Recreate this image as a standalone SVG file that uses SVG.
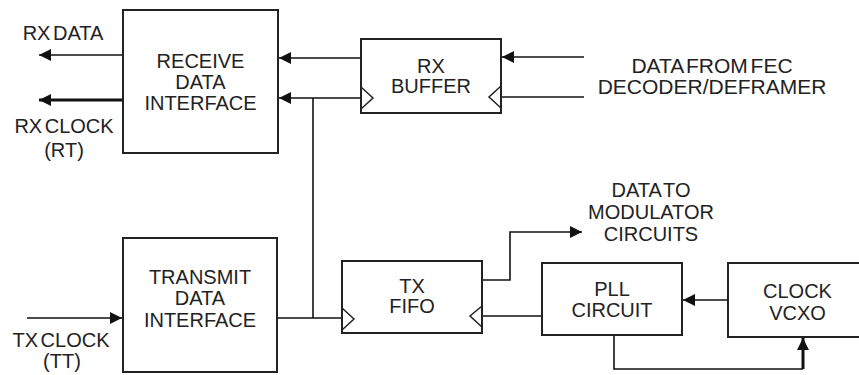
<svg xmlns="http://www.w3.org/2000/svg" width="859" height="375" viewBox="0 0 859 375">
<style>
.box{fill:#fff;stroke:#222;stroke-width:2}
.clk{fill:none;stroke:#222;stroke-width:1.5}
.t{font-family:"Liberation Sans",Arial,sans-serif;font-size:20px;word-spacing:-3px;fill:#222;text-anchor:middle}
.big{font-size:21px}
.w{fill:none;stroke:#111;stroke-width:1.6}
.wa{fill:none;stroke:#111;stroke-width:1.6;marker-end:url(#ah)}
.thick{stroke-width:3}
</style>
<defs>
<marker id="ah" markerUnits="userSpaceOnUse" markerWidth="14" markerHeight="14" refX="12" refY="6" orient="auto">
<path d="M0,0 L12,6 L0,12 z" fill="#111"/>
</marker>
</defs>
<rect width="859" height="375" fill="#fff"/>

<g id="connectors">
<path class="wa" d="M123,55 H39"/>
<path class="wa thick" d="M123,100 H39"/>
<path class="wa" d="M361,58 H279"/>
<path class="wa" d="M361,98 H279"/>
<path class="w" d="M313,98 V318"/>
<path class="w" d="M277,318 H342"/>
<path class="wa" d="M27,318 H122"/>
<path class="wa" d="M584,57 H502"/>
<path class="w" d="M584,97 H501"/>
<path class="wa" d="M482,280 H510 V232 H582"/>
<path class="w" d="M542,316 H482"/>
<path class="wa" d="M728,300 H683"/>
<path class="w" d="M614,335 V369 H803"/>
<path class="wa thick" d="M803,369 V338"/>
</g>

<g id="rx-data-label">
<text class="t" x="63" y="40">RX DATA</text>
</g>
<g id="rx-clock-label">
<text class="t" x="64" y="133">RX CLOCK</text>
<text class="t" x="64" y="157">(RT)</text>
</g>
<g id="tx-clock-label">
<text class="t" x="61" y="347">TX CLOCK</text>
<text class="t" x="62" y="368">(TT)</text>
</g>
<g id="fec-label">
<text class="t big" x="712" y="73">DATA FROM FEC</text>
<text class="t big" x="712" y="94">DECODER/DEFRAMER</text>
</g>
<g id="modulator-label">
<text class="t" x="651" y="197">DATA TO</text>
<text class="t" x="651" y="219">MODULATOR</text>
<text class="t" x="651" y="241">CIRCUITS</text>
</g>

<g id="receive-data-interface">
<rect class="box" x="123" y="10" width="155" height="143"/>
<text class="t" x="200.5" y="68">RECEIVE</text>
<text class="t" x="200.5" y="89">DATA</text>
<text class="t" x="200.5" y="110">INTERFACE</text>
</g>

<g id="rx-buffer">
<rect class="box" x="361" y="39" width="140" height="74"/>
<polyline class="clk" points="361,87 373,98 361,109"/>
<polyline class="clk" points="501,86 489,97 501,108"/>
<text class="t" x="431" y="73">RX</text>
<text class="t" x="431" y="93">BUFFER</text>
</g>

<g id="transmit-data-interface">
<rect class="box" x="123" y="238" width="154" height="134"/>
<text class="t" x="200" y="284">TRANSMIT</text>
<text class="t" x="200" y="305">DATA</text>
<text class="t" x="200" y="327">INTERFACE</text>
</g>

<g id="tx-fifo">
<rect class="box" x="342" y="261" width="140" height="72"/>
<polyline class="clk" points="342,308 354,319 342,330"/>
<polyline class="clk" points="482,306 470,316 482,327"/>
<text class="t" x="412" y="293">TX</text>
<text class="t" x="412" y="313">FIFO</text>
</g>

<g id="pll-circuit">
<rect class="box" x="542" y="263" width="140" height="72"/>
<text class="t" x="612" y="296">PLL</text>
<text class="t" x="612" y="317">CIRCUIT</text>
</g>

<g id="clock-vcxo">
<rect class="box" x="728" y="263" width="140" height="74"/>
<text class="t" x="797.5" y="298">CLOCK</text>
<text class="t" x="797.5" y="320">VCXO</text>
</g>
</svg>
